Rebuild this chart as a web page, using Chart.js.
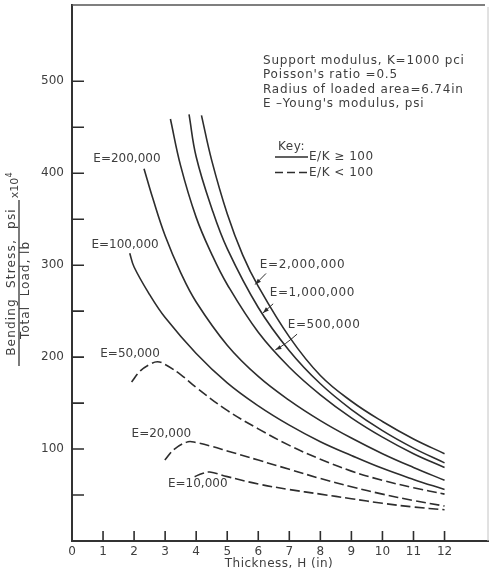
<!DOCTYPE html>
<html>
<head>
<meta charset="utf-8">
<script src="https://cdn.jsdelivr.net/npm/chart.js@4.4.0/dist/chart.umd.min.js"></script>
<style>
  html, body { margin: 0; padding: 0; background: #fff; }
  #wrap { width: 491px; height: 576px; position: relative; }
</style>
</head>
<body>
<div id="wrap"><canvas id="c" width="491" height="576"></canvas></div>
<script>
// Thickness H (in) and bending stress / total load (x10^4) along each Young's modulus curve
const H_E2000K = [4.17, 4.5, 5, 5.5, 6, 7, 8, 9, 10, 11, 12];
const S_E2000K = [463, 414, 356, 311, 277, 222, 180, 152, 130, 111, 95];

const H_E1000K = [3.77, 4, 4.5, 5, 6, 7, 8, 9, 10, 11, 12];
const S_E1000K = [464, 418, 362, 318, 254, 207, 171, 143, 120, 101, 85];

const H_E500K = [3.17, 3.5, 4, 4.5, 5, 6, 7, 8, 9, 10, 11, 12];
const S_E500K = [459, 408, 352, 312, 279, 227, 189, 159, 134, 113, 95, 80];

const H_E200K = [2.32, 2.6, 3, 3.5, 4, 5, 6, 7, 8, 9, 10, 11, 12];
const S_E200K = [405, 373, 332, 292, 260, 213, 179, 153, 131, 112, 95, 80, 66];

const H_E100K = [1.86, 2, 2.5, 3, 4, 5, 6, 7, 8, 9, 10, 11, 12];
const S_E100K = [313, 298, 268, 243, 204, 172, 147, 126, 108, 93, 79, 67, 56];

const H_E50K = [1.92, 2.2, 2.5, 2.75, 3, 3.5, 4, 5, 6, 7, 8, 9, 10, 11, 12];
const S_E50K = [173, 185, 192, 195, 192, 181, 167, 142, 122, 104, 89, 76, 66, 58, 51];

const H_E20K = [2.99, 3.3, 3.74, 4, 4.5, 5, 6, 7, 8, 9, 10, 11, 12];
const S_E20K = [88, 100, 108, 107, 103, 98, 88, 78, 68, 59, 51, 44, 38];

const H_E10K = [3.95, 4.2, 4.44, 5, 6, 7, 8, 9, 10, 11, 12];
const S_E10K = [70, 73.5, 75, 70, 62, 56, 51, 46, 41, 37, 34];

// Axis ticks
const X_TICKS = [0, 1, 2, 3, 4, 5, 6, 7, 8, 9, 10, 11, 12];
const Y_LABEL_TICKS = [100, 200, 300, 400, 500];
const Y_MINOR_TICKS = [50, 150, 250, 350, 450];

const INK = '#2d2d2d';
const TEXT = '#3e3e3e';
const FONT = '"DejaVu Sans", "Liberation Sans", sans-serif';

function pts(hs, ss) { return hs.map((h, i) => ({ x: h, y: ss[i] })); }

function curve(label, hs, ss, dashed) {
  return {
    label,
    data: pts(hs, ss),
    borderColor: INK,
    borderWidth: 1.6,
    borderDash: dashed ? [10, 4] : [],
    pointRadius: 0,
    fill: false,
    tension: 0.4
  };
}

const datasets = [
  curve('E=2,000,000', H_E2000K, S_E2000K, false),
  curve('E=1,000,000', H_E1000K, S_E1000K, false),
  curve('E=500,000', H_E500K, S_E500K, false),
  curve('E=200,000', H_E200K, S_E200K, false),
  curve('E=100,000', H_E100K, S_E100K, false),
  curve('E=50,000', H_E50K, S_E50K, true),
  curve('E=20,000', H_E20K, S_E20K, true),
  curve('E=10,000', H_E10K, S_E10K, true)
];

function arrow(ctx, x0, y0, x1, y1, cx, cy) {
  ctx.beginPath();
  ctx.moveTo(x0, y0);
  if (cx !== undefined) ctx.quadraticCurveTo(cx, cy, x1, y1); else ctx.lineTo(x1, y1);
  ctx.stroke();
  const fx = cx !== undefined ? cx : x0, fy = cy !== undefined ? cy : y0;
  const a = Math.atan2(y1 - fy, x1 - fx);
  const L = 6, W = 2.2;
  ctx.beginPath();
  ctx.moveTo(x1, y1);
  ctx.lineTo(x1 - L * Math.cos(a) + W * Math.sin(a), y1 - L * Math.sin(a) - W * Math.cos(a));
  ctx.lineTo(x1 - L * Math.cos(a) - W * Math.sin(a), y1 - L * Math.sin(a) + W * Math.cos(a));
  ctx.closePath();
  ctx.fill();
}

const decorations = {
  id: 'decorations',
  afterDraw(chart) {
    const ctx = chart.ctx;
    const xs = chart.scales.x, ys = chart.scales.y;
    const X = v => xs.getPixelForValue(v);
    const Y = v => ys.getPixelForValue(v);
    const ca = chart.chartArea;
    ctx.save();

    // top and right frame
    ctx.strokeStyle = '#555';
    ctx.lineWidth = 1.4;
    ctx.beginPath();
    ctx.moveTo(ca.left, ca.top); ctx.lineTo(ca.right - 3, ca.top);
    ctx.stroke();
    ctx.strokeStyle = '#c4c4c4';
    ctx.lineWidth = 1;
    ctx.beginPath();
    ctx.moveTo(ca.right, ca.top + 2); ctx.lineTo(ca.right, ca.bottom);
    ctx.stroke();

    // inward tick marks
    ctx.strokeStyle = INK;
    ctx.lineWidth = 1.6;
    ctx.beginPath();
    Y_LABEL_TICKS.concat(Y_MINOR_TICKS).forEach(v => {
      const py = Y(v);
      ctx.moveTo(ca.left, py); ctx.lineTo(ca.left + 12, py);
    });
    X_TICKS.filter(v => v > 0).forEach(v => {
      const px = X(v);
      ctx.moveTo(px, ca.bottom); ctx.lineTo(px, ca.bottom - 10);
    });
    ctx.stroke();

    // curve labels
    ctx.fillStyle = TEXT;
    ctx.font = '12px ' + FONT;
    ctx.textBaseline = 'middle';
    ctx.textAlign = 'center';
    ctx.fillText('E=200,000', X(1.77), Y(416));
    ctx.fillText('E=100,000', X(1.71), Y(322));
    ctx.fillText('E=50,000', X(1.87), Y(203));
    ctx.fillText('E=20,000', X(2.88), Y(116));
    ctx.fillText('E=10,000', X(4.05), Y(62));
    ctx.textAlign = 'left';
    ctx.letterSpacing = '0.6px';
    ctx.fillText('E=2,000,000', X(6.05), Y(300));
    ctx.fillText('E=1,000,000', X(6.37), Y(270));
    ctx.fillText('E=500,000', X(6.95), Y(235));
    ctx.letterSpacing = '0px';

    // leader arrows to the stiff curves
    ctx.strokeStyle = INK;
    ctx.fillStyle = INK;
    ctx.lineWidth = 1;
    arrow(ctx, X(6.25), Y(291), X(5.9), Y(279));
    arrow(ctx, X(6.48), Y(258), X(6.15), Y(248));
    arrow(ctx, X(7.25), Y(225), X(6.55), Y(208), X(6.85), Y(213));

    // notes
    ctx.fillStyle = TEXT;
    ctx.font = '12px ' + FONT;
    ctx.textAlign = 'left';
    ctx.textBaseline = 'middle';
    ctx.letterSpacing = '0.8px';
    ctx.fillText('Support modulus, K=1000 pci', 263, 61);
    ctx.fillText("Poisson's ratio =0.5", 263, 75);
    ctx.fillText('Radius of loaded area=6.74in', 263, 89.5);
    ctx.fillText("E \u2013Young's modulus, psi", 263, 103.5);

    // key
    ctx.letterSpacing = '0.5px';
    ctx.fillText('Key:', 278, 147);
    ctx.fillText('E/K \u2265 100', 309, 157);
    ctx.fillText('E/K < 100', 309, 172.5);
    ctx.letterSpacing = '0px';
    ctx.strokeStyle = INK;
    ctx.lineWidth = 1.5;
    ctx.beginPath();
    ctx.moveTo(275, 157); ctx.lineTo(308, 157);
    ctx.stroke();
    ctx.setLineDash([8, 4]);
    ctx.beginPath();
    ctx.moveTo(275, 172.5); ctx.lineTo(308, 172.5);
    ctx.stroke();
    ctx.setLineDash([]);

    // x axis title
    ctx.fillStyle = TEXT;
    ctx.textAlign = 'center';
    ctx.letterSpacing = '0.5px';
    ctx.fillText('Thickness, H (in)', 279, 564);
    ctx.letterSpacing = '0px';

    // y axis title: stress over load fraction, x10^4
    ctx.save();
    ctx.translate(12, 282);
    ctx.rotate(-Math.PI / 2);
    ctx.textAlign = 'center';
    ctx.textBaseline = 'middle';
    ctx.letterSpacing = '1.2px';
    ctx.fillText('Bending  Stress,  psi', 0, 0);
    ctx.restore();

    ctx.save();
    ctx.translate(26, 290);
    ctx.rotate(-Math.PI / 2);
    ctx.textAlign = 'center';
    ctx.textBaseline = 'middle';
    ctx.letterSpacing = '1px';
    ctx.fillText('Total  Load, lb', 0, 0);
    ctx.restore();

    ctx.strokeStyle = '#444';
    ctx.lineWidth = 1.4;
    ctx.beginPath();
    ctx.moveTo(19, 200); ctx.lineTo(19, 366);
    ctx.stroke();

    ctx.save();
    ctx.translate(15, 186);
    ctx.rotate(-Math.PI / 2);
    ctx.textAlign = 'center';
    ctx.textBaseline = 'middle';
    ctx.font = '11px ' + FONT;
    ctx.fillText('x10', -2, 0);
    ctx.font = '8px ' + FONT;
    ctx.fillText('4', 11, -5);
    ctx.restore();

    ctx.restore();
  }
};

new Chart(document.getElementById('c'), {
  type: 'line',
  data: { datasets },
  options: {
    responsive: false,
    devicePixelRatio: 1,
    animation: false,
    layout: { padding: { top: 5, right: 3, left: 0, bottom: 0 } },
    plugins: { legend: { display: false }, tooltip: { enabled: false } },
    scales: {
      x: {
        type: 'linear',
        min: 0,
        max: 13.4,
        afterBuildTicks: s => { s.ticks = X_TICKS.map(v => ({ value: v })); },
        afterFit: s => { s.height = 35; s.paddingLeft = 0; s.paddingRight = 0; },
        grid: { display: false, drawTicks: false },
        border: { display: true, color: '#333', width: 2 },
        ticks: {
          color: TEXT,
          font: { family: FONT, size: 12 },
          padding: 4,
          maxRotation: 0,
          autoSkip: false,
          callback: v => String(v)
        }
      },
      y: {
        type: 'linear',
        min: 0,
        max: 583,
        afterBuildTicks: s => { s.ticks = Y_LABEL_TICKS.map(v => ({ value: v })); },
        afterFit: s => { s.width = 72; s.paddingTop = 0; s.paddingBottom = 0; },
        grid: { display: false, drawTicks: false },
        border: { display: true, color: '#333', width: 2 },
        ticks: {
          color: TEXT,
          font: { family: FONT, size: 12 },
          padding: 8,
          autoSkip: false,
          callback: v => String(v)
        }
      }
    }
  },
  plugins: [decorations]
});
</script>
</body>
</html>
